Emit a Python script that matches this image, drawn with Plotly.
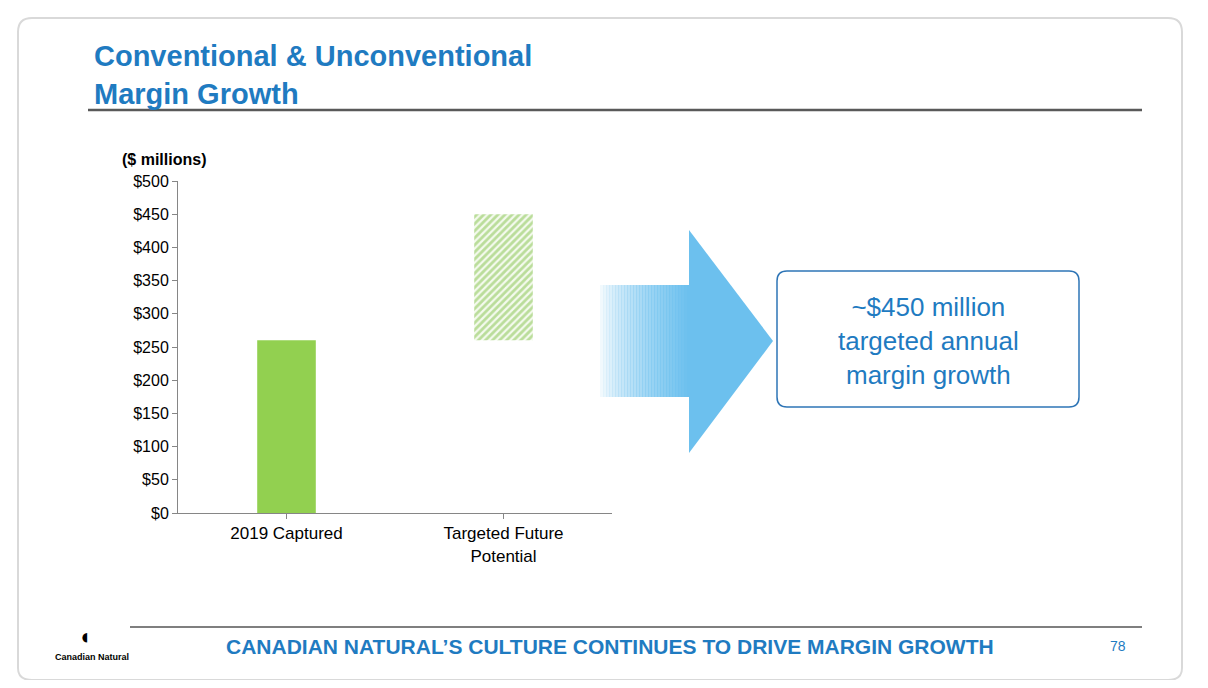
import plotly.graph_objects as go

categories = ["2019 Captured", "Targeted Future<br>Potential"]
bases = [0, 260]
values = [260, 190]
tick_vals = [0, 50, 100, 150, 200, 250, 300, 350, 400, 450, 500]
tick_text = ["$" + str(v) for v in tick_vals]

OFF = 8
W, H = 1208 - 2 * OFF, 688 - 2 * OFF
L, R, T, B = 178, 612, 181, 513  # page pixel coords of plot area
def px(x): return (x - L) / (R - L)
def py(y): return (B - y) / (B - T)

fig = go.Figure()
fig.add_bar(x=categories[:1], y=values[:1], base=bases[:1], width=0.27,
            marker=dict(color="#92d050", line=dict(width=0)), showlegend=False)
fig.add_bar(x=categories[1:], y=values[1:], base=bases[1:], width=0.27,
            marker=dict(color="white", line=dict(width=0),
                        pattern=dict(shape="/", fgcolor="#7fbf45", bgcolor="#f4faee", size=5, solidity=0.55)),
            showlegend=False)

shapes = []
shapes.append(dict(type="path", xref="paper", yref="paper",
    path=f"M {px(32)},{py(18)} L {px(1168)},{py(18)} Q {px(1182)},{py(18)} {px(1182)},{py(32)} L {px(1182)},{py(668)} Q {px(1182)},{py(680)} {px(1168)},{py(680)} L {px(32)},{py(680)} Q {px(18)},{py(680)} {px(18)},{py(668)} L {px(18)},{py(32)} Q {px(18)},{py(18)} {px(32)},{py(18)} Z",
    line=dict(color="#d9d9d9", width=2), layer="below"))
shapes.append(dict(type="line", xref="paper", yref="paper", x0=px(88), x1=px(1142), y0=py(110), y1=py(110), line=dict(color="#595959", width=2.5)))
shapes.append(dict(type="line", xref="paper", yref="paper", x0=px(130), x1=px(1142), y0=py(627), y1=py(627), line=dict(color="#7f7f7f", width=2)))
n = 30
for i in range(n):
    x0 = 600 + i * 90 / n
    shapes.append(dict(type="rect", xref="paper", yref="paper", x0=px(x0), x1=px(x0 + 90 / n + 0.5),
        y0=py(397), y1=py(285), fillcolor="#6cc0ee", opacity=((i + 1) / n) ** 0.7, line=dict(width=0)))
shapes.append(dict(type="path", xref="paper", yref="paper",
    path=f"M {px(689)},{py(230)} L {px(773)},{py(341)} L {px(689)},{py(453)} Z",
    fillcolor="#6cc0ee", line=dict(width=0)))
x0, x1, y0, y1, r = 777, 1079, 271, 407, 10
shapes.append(dict(type="path", xref="paper", yref="paper",
    path=f"M {px(x0+r)},{py(y0)} L {px(x1-r)},{py(y0)} Q {px(x1)},{py(y0)} {px(x1)},{py(y0+r)} L {px(x1)},{py(y1-r)} Q {px(x1)},{py(y1)} {px(x1-r)},{py(y1)} L {px(x0+r)},{py(y1)} Q {px(x0)},{py(y1)} {px(x0)},{py(y1-r)} L {px(x0)},{py(y0+r)} Q {px(x0)},{py(y0)} {px(x0+r)},{py(y0)} Z",
    fillcolor="white", line=dict(color="#2e75b6", width=1.5)))

ann = [
    dict(x=px(92), y=py(38), text="<b>Conventional & Unconventional<br>Margin Growth</b>", xanchor="left", yanchor="top",
         align="left", font=dict(size=29, color="#1f7bc1", family="Liberation Sans")),
    dict(x=px(120), y=py(159), text="<b>($ millions)</b>", xanchor="left", yanchor="middle",
         font=dict(size=16, color="black", family="Liberation Sans")),
    dict(x=px(928), y=py(341), text="~$450 million<br>targeted annual<br>margin growth", xanchor="center", yanchor="middle",
         font=dict(size=26, color="#1f7bc1", family="Liberation Sans")),
    dict(x=px(610), y=py(646), text="<b>CANADIAN NATURAL’S CULTURE CONTINUES TO DRIVE MARGIN GROWTH</b>", xanchor="center", yanchor="middle",
         font=dict(size=21, color="#1f7bc1", family="Liberation Sans")),
    dict(x=px(1118), y=py(646), text="78", xanchor="center", yanchor="middle",
         font=dict(size=14, color="#1f7bc1", family="Liberation Sans")),
    dict(x=px(92), y=py(657), text="<b>Canadian Natural</b>", xanchor="center", yanchor="middle",
         font=dict(size=9, color="black", family="Liberation Sans")),
    dict(x=px(84), y=py(636), text="◖", xanchor="center", yanchor="middle", font=dict(size=22, color="black")),
]
for a in ann:
    a.update(xref="paper", yref="paper", showarrow=False)

fig.update_layout(
    width=W, height=H, margin=dict(l=L - OFF, r=W - (R - OFF), t=T - OFF, b=H - (B - OFF)),
    paper_bgcolor="white", plot_bgcolor="white", barmode="overlay",
    shapes=shapes, annotations=ann,
    font=dict(family="Liberation Sans", size=16, color="black"),
    xaxis=dict(showline=True, linecolor="#868686", ticks="outside", tickcolor="#868686",
               tickfont=dict(size=17), showgrid=False),
    yaxis=dict(range=[0, 500], tickvals=tick_vals, ticktext=tick_text, showline=True,
               linecolor="#868686", ticks="outside", tickcolor="#868686", showgrid=False,
               tickfont=dict(size=16), zeroline=False),
)
fig.write_html("out.html")
